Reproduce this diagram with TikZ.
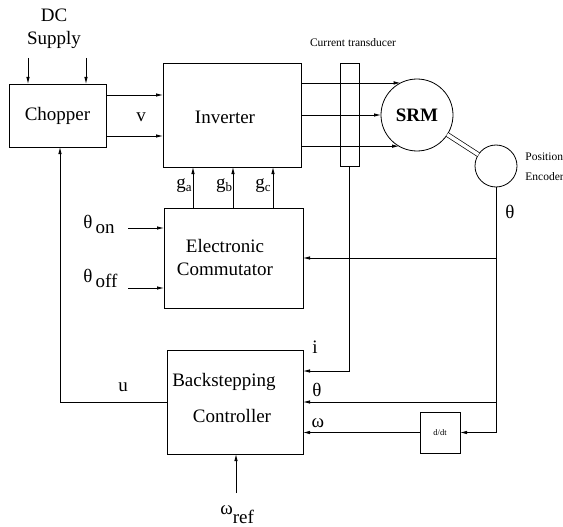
\documentclass[tikz,border=0pt]{standalone}
\usepackage{fontspec}
\setmainfont{Liberation Serif}
\usetikzlibrary{arrows.meta,calc}
\begin{document}
\begin{tikzpicture}[x=1pt,y=-1pt,
  line width=0.8pt,
  arr/.style={-{Latex[length=7pt,width=3.5pt]}},
  box/.style={draw,rectangle,inner sep=0pt,outer sep=0pt},
  big/.style={font=\fontsize{19}{23}\selectfont,inner sep=0pt},
  small/.style={font=\fontsize{11.5}{13}\selectfont,inner sep=0pt}]
\useasboundingbox (0,0) rectangle (563,527);

% blocks
\node[box,big,minimum width=97pt,minimum height=63pt] (chop) at (57.5,115.5) {Chopper};
\node[box,minimum width=138pt,minimum height=104pt] (inv) at (232,115) {};
\node[box,minimum width=139pt,minimum height=100pt] (comm) at (233.5,258) {};
\node[box,minimum width=136pt,minimum height=104pt] (bs) at (235,402) {};
\node[box,minimum width=19pt,minimum height=103pt] (trans) at (349.5,114.5) {};
\node[box,minimum width=40pt,minimum height=41pt,font=\fontsize{8.5}{10}\selectfont] (ddt) at (440,432.5) {d/dt};
\node[draw,circle,minimum size=72pt,inner sep=0pt,outer sep=0pt,font=\fontsize{19}{23}\selectfont\bfseries] (srm) at (417,115) {SRM};
\node[draw,circle,minimum size=42pt,inner sep=0pt,outer sep=0pt] (enc) at (496,166) {};

% texts
\node[big,align=center] (dc) at (54,29) {DC\\Supply};
\node[big] (invt) at (225,117) {Inverter};
\node[big,align=center] (commt) at (225,258) {Electronic\\Commutator};
\node[big] (bst1) at (224,382) {Backstepping};
\node[big] (bst2) at (232,416) {Controller};
\node[big] (vl) at (141,117) {v};
\node[big] (gal) at (184,186) {g\raisebox{-3pt}{\fontsize{13}{13}\selectfont a}};
\node[big] (gbl) at (224,186) {g\raisebox{-3pt}{\fontsize{13}{13}\selectfont b}};
\node[big] (gcl) at (263,186) {g\raisebox{-3pt}{\fontsize{13}{13}\selectfont c}};
\node[big,anchor=base west] (thon) at (83,228) {θ\,\raisebox{-5pt}{on}};
\node[big,anchor=base west] (thoff) at (83,282) {θ\,\raisebox{-5pt}{off}};
\node[big] (ul) at (123,387) {u};
\node[big] (il) at (315,347) {i};
\node[big] (thl) at (317,390) {θ};
\node[big] (oml) at (318,423) {ω};
\node[big] (thenc) at (510,212) {θ};
\node[big,anchor=base west] (wref) at (220,514) {ω\raisebox{-9pt}{ref}};
\node[small] (ctl) at (353,43) {Current transducer};
\node[small,anchor=west] (pos1) at (525,157) {Position};
\node[small,anchor=west] (pos2) at (525,177) {Encoder};

% coordinates of free ends
\coordinate (dc1) at (28,58);
\coordinate (dc2) at (86,58);
\coordinate (ton) at (128,228);
\coordinate (toff) at (128,288);
\coordinate (wr) at (236,493);

% connectors
\draw[arr] (dc1) -- (dc1 |- chop.north);
\draw[arr] (dc2) -- (dc2 |- chop.north);
\draw[arr] (chop.east |- 0,95) -- (inv.west |- 0,95);
\draw[arr] (chop.east |- 0,136) -- (inv.west |- 0,136);
\foreach \x in {193,233,273}
  \draw[arr] (comm.north -| \x,0) -- (inv.south -| \x,0);
\draw[arr] (ton) -- (comm.west |- ton);
\draw[arr] (toff) -- (comm.west |- toff);
\draw[arr] (inv.east |- srm.117) -- (srm.117);
\draw[arr] (inv.east |- srm.west) -- (srm.west);
\draw[arr] (inv.east |- srm.240) -- (srm.240);
\draw[double distance=3.5pt,line width=0.7pt] (srm) -- (enc);
\draw[arr] (enc.south) |- (ddt.east);
\draw[arr] (enc.south |- comm.east) -- (comm.east);
\draw[arr] (enc.south |- bs.east) -- (bs.east);
\draw[arr] (trans.south) |- ([yshift=31pt]bs.east);
\draw[arr] (ddt.west) -- (bs.east |- ddt.west);
\draw[arr] (bs.west) -| ([xshift=2.5pt]chop.south);
\draw[arr] (wr) -- (bs.south -| wr);
\end{tikzpicture}
\end{document}
